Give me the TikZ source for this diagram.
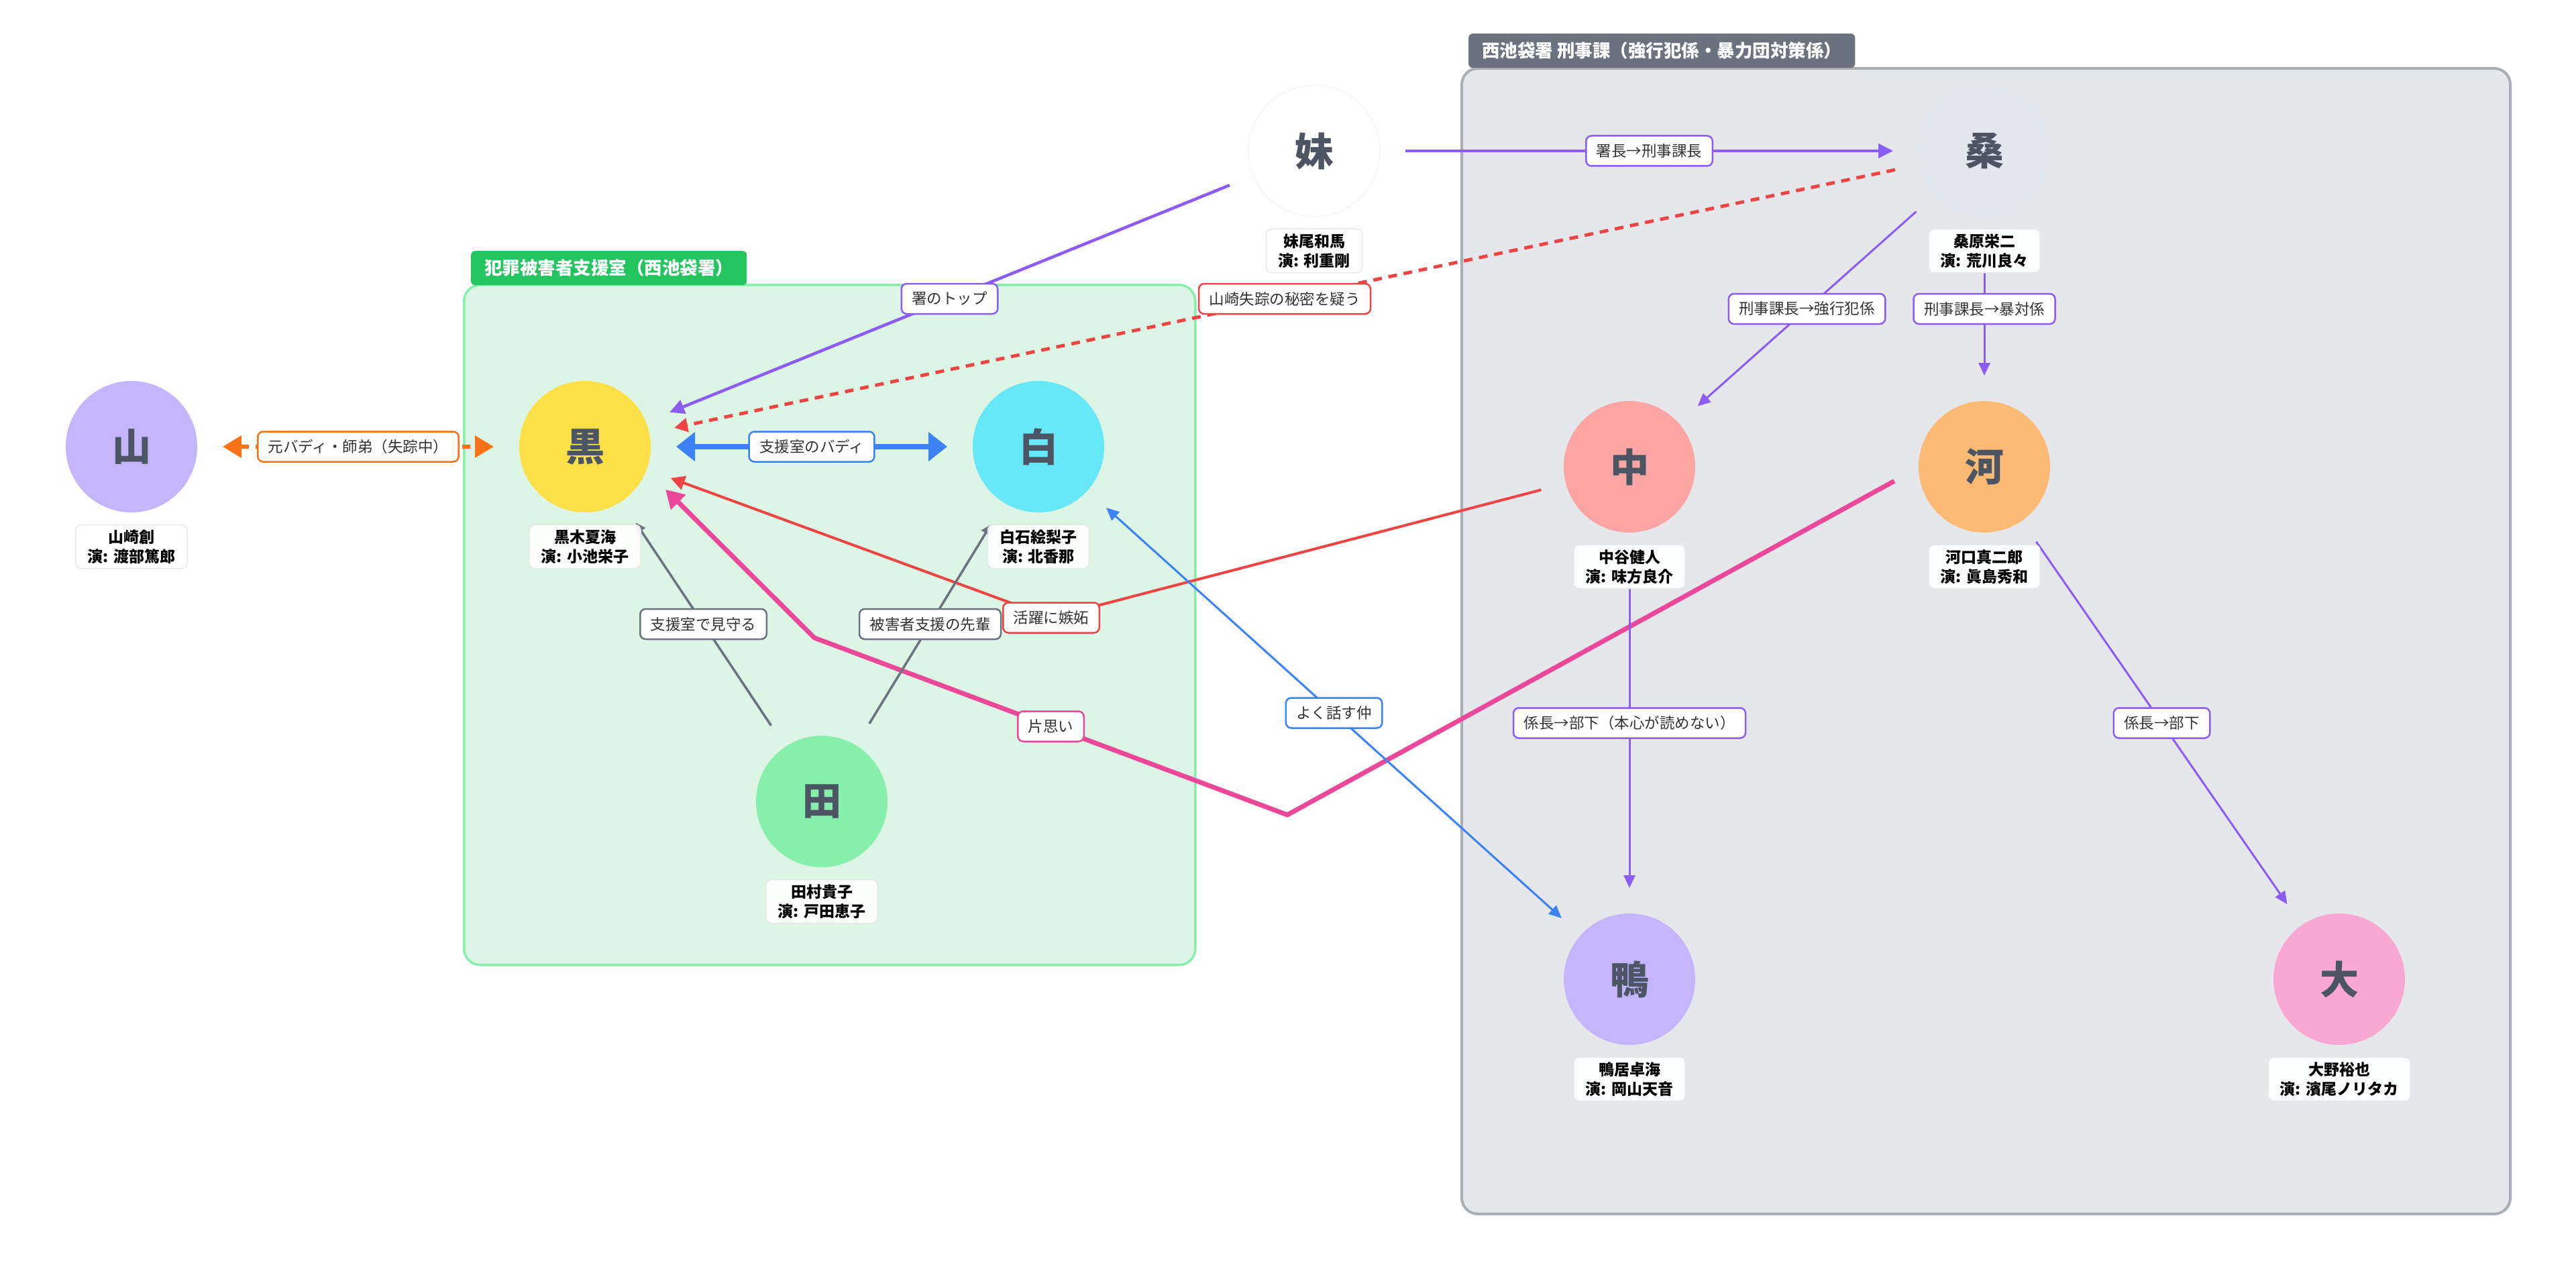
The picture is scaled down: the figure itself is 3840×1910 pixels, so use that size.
\documentclass[tikz,border=0pt]{standalone}
\usepackage{fontspec}
\setmainfont{Noto Sans CJK JP}
\usetikzlibrary{arrows.meta}
\pgfdeclarelayer{bg}
\pgfdeclarelayer{edges}
\pgfsetlayers{bg,edges,main}
\definecolor{cText}{HTML}{4B5563}
\definecolor{cLabel}{HTML}{333333}
\definecolor{cNameBorder}{HTML}{E5E7EB}
\definecolor{cGreenFill}{HTML}{DCF5E4}
\definecolor{cGreenBorder}{HTML}{86EFAC}
\definecolor{cGreenTab}{HTML}{22C55E}
\definecolor{cGreyFill}{HTML}{E5E7EB}
\definecolor{cGreyBorder}{HTML}{A9AEB6}
\definecolor{cGreyTab}{HTML}{6B7280}
\definecolor{cOrange}{HTML}{F97316}
\definecolor{cBlue}{HTML}{3B82F6}
\definecolor{cPurple}{HTML}{8B5CF6}
\definecolor{cRed}{HTML}{EF4444}
\definecolor{cPink}{HTML}{EC4899}
\definecolor{cGrey}{HTML}{6B7280}
\definecolor{fYama}{HTML}{C4B5FD}
\definecolor{fKuro}{HTML}{FDE047}
\definecolor{fShiro}{HTML}{67E8F9}
\definecolor{fTa}{HTML}{86EFAC}
\definecolor{fImo}{HTML}{FFFFFF}
\definecolor{fKuwa}{HTML}{E2E8F0}
\definecolor{fNaka}{HTML}{FCA5A5}
\definecolor{fKawa}{HTML}{FDBA74}
\definecolor{fKamo}{HTML}{C4B5FD}
\definecolor{fOo}{HTML}{F9A8D4}
\tikzset{
  person/.style={circle, minimum size=196pt, inner sep=0pt, outer sep=38pt,
    font=\fontsize{58}{60}\selectfont\bfseries, text=cText},
  namebox/.style={fill=white, fill opacity=0.92, text opacity=1, draw=cNameBorder,
    line width=1.5pt, rounded corners=8pt, align=center,
    font=\fontsize{23}{29}\selectfont\bfseries, text=black, inner xsep=18pt, inner ysep=7pt},
  elabel/.style={fill=white, draw=#1, solid, line width=2.5pt, rounded corners=8pt,
    font=\fontsize{22.5}{26}\selectfont, text=cLabel, inner xsep=15.5pt, inner ysep=0pt,
    minimum height=45pt},
  grpbox/.style={rounded corners=24pt, line width=#1, anchor=north west, inner sep=0pt},
  grptab/.style={rounded corners=6pt, anchor=north west, inner xsep=20pt, inner ysep=0pt,
    minimum height=51pt, text=white, font=\fontsize{26.5}{30}\selectfont\bfseries},
  eOrange/.style={draw=cOrange, line width=6pt, dash pattern=on 12pt off 10pt,
    {Triangle[length=28pt,width=32pt]}-{Triangle[length=28pt,width=32pt]}},
  eBuddy/.style={draw=cBlue, line width=8pt,
    {Triangle[length=28pt,width=42pt]}-{Triangle[length=28pt,width=42pt]}},
  ePurple/.style={draw=cPurple, line width=4.5pt, -{Triangle[length=22pt,width=21pt]}},
  ePurpleThin/.style={draw=cPurple, line width=3pt, -{Triangle[length=19pt,width=17pt]}},
  eRedDash/.style={draw=cRed, line width=5pt, dash pattern=on 13pt off 10pt,
    -{Triangle[length=20pt,width=20pt]}},
  eRed/.style={draw=cRed, line width=4pt, -{Triangle[length=21pt,width=21pt]}},
  ePink/.style={draw=cPink, line width=7pt, line join=miter, -{Triangle[length=27pt,width=30pt]}},
  eGrey/.style={draw=cGrey, line width=3.5pt, -{Triangle[length=15pt,width=15pt]}},
  eBlueThin/.style={draw=cBlue, line width=3pt,
    {Triangle[length=19pt,width=17pt]}-{Triangle[length=19pt,width=17pt]}},
}
\begin{document}
\begin{tikzpicture}[x=1pt,y=-1pt]
\useasboundingbox (0,0) rectangle (3840,1910);
\begin{pgfonlayer}{bg}
  \fill[white] (0,0) rectangle (3840,1910);
  \node[grpbox=3.5pt, draw=cGreenBorder, fill=cGreenFill, minimum width=1090pt, minimum height=1014pt]
    (supportRoom) at (690,423) {};
  \node[grpbox=4pt, draw=cGreyBorder, fill=cGreyFill, minimum width=1563pt, minimum height=1708pt]
    (crimeDiv) at (2177,100) {};
  \node[grptab, fill=cGreenTab] (supportTab) at (702,374) {犯罪被害者支援室（西池袋署）};
  \node[grptab, fill=cGreyTab] (crimeTab) at (2189,50) {西池袋署 刑事課（強行犯係・暴力団対策係）};
\end{pgfonlayer}

% people
\node[person, fill=fYama] (yama) at (196,666) {山};
\node[person, fill=fKuro] (kuro) at (872,666) {黒};
\node[person, fill=fShiro] (shiro) at (1548,666) {白};
\node[person, fill=fTa] (ta) at (1225,1195) {田};
\node[person, fill=fImo, draw=gray!6, line width=1.5pt] (imo) at (1959,225) {妹};
\node[person, fill=fKuwa] (kuwa) at (2958,225) {桑};
\node[person, fill=fNaka] (naka) at (2429,696) {中};
\node[person, fill=fKawa] (kawa) at (2958,696) {河};
\node[person, fill=fKamo] (kamo) at (2429,1460) {鴨};
\node[person, fill=fOo] (oo) at (3487,1460) {大};

% name labels
\node[namebox] (yamaN) at (196,815) {山崎創\\演: 渡部篤郎};
\node[namebox] (kuroN) at (872,815) {黒木夏海\\演: 小池栄子};
\node[namebox] (shiroN) at (1548,815) {白石絵梨子\\演: 北香那};
\node[namebox] (taN) at (1225,1344) {田村貴子\\演: 戸田恵子};
\node[namebox] (imoN) at (1959,374) {妹尾和馬\\演: 利重剛};
\node[namebox] (kuwaN) at (2958,374) {桑原栄二\\演: 荒川良々};
\node[namebox] (nakaN) at (2429,845) {中谷健人\\演: 味方良介};
\node[namebox] (kawaN) at (2958,845) {河口真二郎\\演: 眞島秀和};
\node[namebox] (kamoN) at (2429,1609) {鴨居卓海\\演: 岡山天音};
\node[namebox] (ooN) at (3487,1609) {大野裕也\\演: 濱尾ノリタカ};

% waypoints
\coordinate (j1) at (1567,921);
\coordinate (pk1) at (1919,1215);
\coordinate (pk2) at (1214,951);

\begin{pgfonlayer}{edges}
  \draw[eOrange] (yama) -- node[elabel=cOrange] {元バディ・師弟（失踪中）} (kuro);
  \draw[eBuddy] (kuro) -- node[elabel=cBlue] {支援室のバディ} (shiro);
  \draw[ePurple] (imo) -- node[elabel=cPurple] {署のトップ} (kuro);
  \draw[eRedDash] (kuwa) -- node[elabel=cRed] {山崎失踪の秘密を疑う} (kuro);
  \draw[ePurple] (imo) -- node[elabel=cPurple] {署長→刑事課長} (kuwa);
  \draw[ePurpleThin] (kuwa) -- node[elabel=cPurple] {刑事課長→強行犯係} (naka);
  \draw[ePurpleThin] (kuwa) -- node[elabel=cPurple] {刑事課長→暴対係} (kawa);
  \draw[eRed] (naka) -- (j1) node[elabel=cRed] {活躍に嫉妬} -- (kuro);
  \draw[ePink] (kawa.189) -- (pk1) -- node[elabel=cPink] {片思い} (pk2) -- (kuro.-28);
  \draw[eGrey] (ta) -- node[elabel=cGrey] {支援室で見守る} (kuro);
  \draw[eGrey] (ta) -- node[elabel=cGrey] {被害者支援の先輩} (shiro);
  \draw[eBlueThin] (shiro) -- node[elabel=cBlue] {よく話す仲} (kamo);
  \draw[ePurpleThin] (naka) -- node[elabel=cPurple] {係長→部下（本心が読めない）} (kamo);
  \draw[ePurpleThin] (kawa) -- node[elabel=cPurple] {係長→部下} (oo);
\end{pgfonlayer}
\end{tikzpicture}
\end{document}
